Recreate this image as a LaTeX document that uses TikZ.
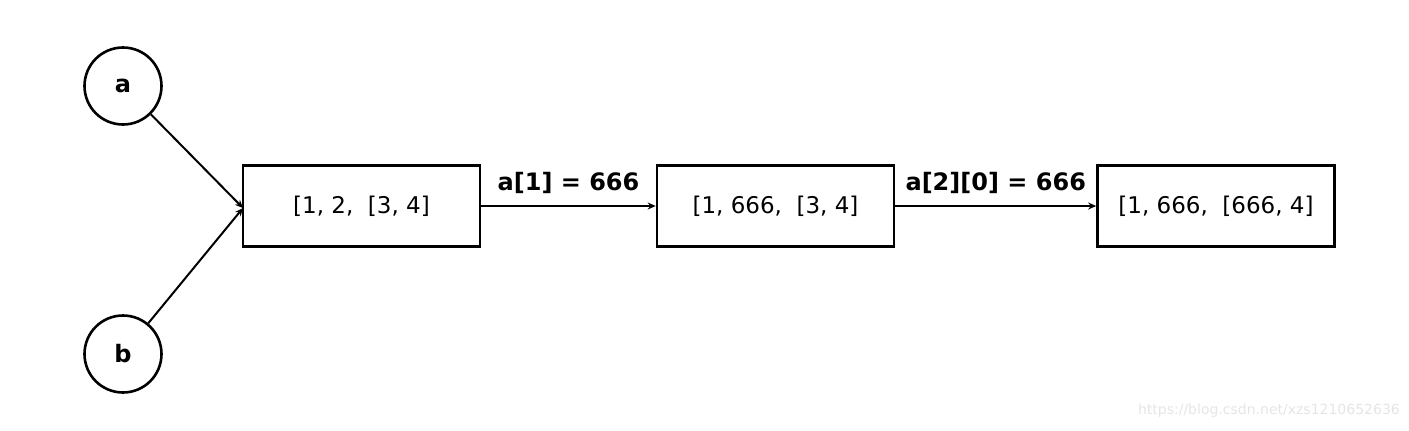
\documentclass[tikz,border=0pt]{standalone}
\usepackage{fontspec}
\setmainfont{DejaVu Sans}
\usetikzlibrary{arrows.meta}
\begin{document}
\begin{tikzpicture}[x=1pt,y=-1pt,
  circ/.style={draw,circle,line width=2.6pt,minimum size=77pt,inner sep=0pt,font=\fontsize{24}{26}\selectfont\bfseries},
  listbox/.style={draw,rectangle,line width=2.6pt,minimum width=237pt,minimum height=81pt,inner sep=0pt,font=\fontsize{23}{26}\selectfont},
  conn/.style={line width=2pt,-{Stealth[length=8pt,width=7pt]}},
  lbl/.style={font=\fontsize{24}{26}\selectfont\bfseries,inner sep=0pt}]
\useasboundingbox (0,0) rectangle (1409,431);
\node[circ] (a) at (123,86) {a};
\node[circ] (b) at (123,354) {b};
\node[listbox] (l1) at (361.5,206) {[1, 2,\ \ [3, 4]};
\node[listbox] (l2) at (775.5,206) {[1, 666,\ \ [3, 4]};
\node[listbox] (l3) at (1216,206) {[1, 666,\ \ [666, 4]};
\coordinate (t) at (243,208);
\draw[conn] (a) -- (t);
\draw[conn] (b) -- (t);
\draw[conn] (l1) -- (l2) node[lbl,midway,above=11pt] {a[1] = 666};
\draw[conn] (l2) -- (l3) node[lbl,midway,above=11pt] {a[2][0] = 666};
\node[font=\fontsize{14}{16}\selectfont,text=black!10,anchor=east,inner sep=0pt] (wm) at (1400,411) {https://blog.csdn.net/xzs1210652636};
\end{tikzpicture}
\end{document}
